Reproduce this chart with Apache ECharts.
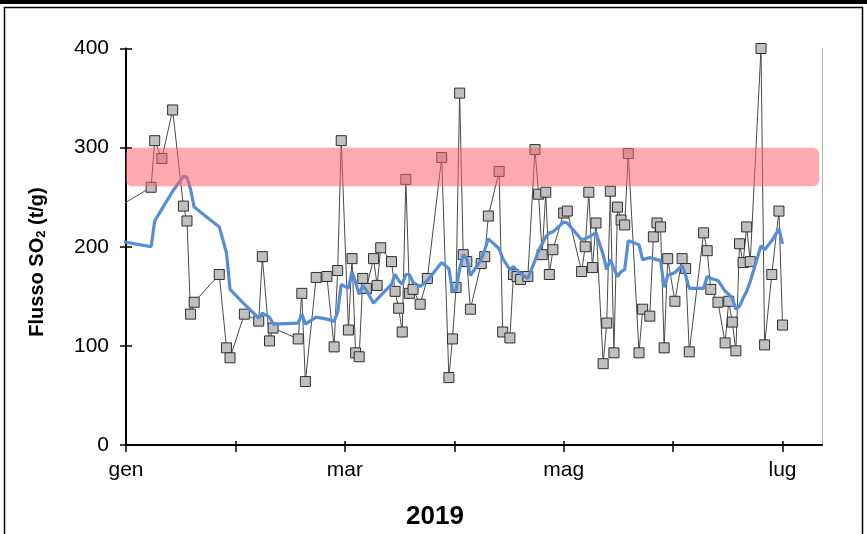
<!DOCTYPE html>
<html>
<head>
<meta charset="utf-8">
<script src="https://cdn.jsdelivr.net/npm/echarts@6/dist/echarts.min.js"></script>
<style>
  html, body { margin: 0; padding: 0; background: #fff; }
  #chart { width: 867px; height: 534px; }
</style>
</head>
<body>
<div id="chart"></div>
<script>
// giorni dal 1 gennaio 2019 (il primo punto e' di fine dicembre, fuori dal grafico)
var days = [-5, 7, 8, 10, 13, 16, 17, 18, 19, 26, 28, 29, 33, 37, 38, 40, 41, 48, 49, 50,
  53, 56, 58, 59, 60, 62, 63, 64, 65, 66, 67, 69, 70, 71, 74, 75, 76, 77, 78, 79,
  80, 82, 84, 88, 90, 91, 92, 93, 94, 95, 96, 99, 100, 101, 104, 105, 107, 108, 109, 110,
  112, 114, 115, 116, 117, 118, 119, 122, 123, 127, 128, 129, 130, 131, 133, 134, 135, 136, 137, 138,
  139, 140, 143, 144, 146, 147, 148, 149, 150, 151, 153, 155, 156, 157, 161, 162, 163, 165, 167, 168,
  169, 170, 171, 172, 173, 174, 177, 178, 180, 182, 183];

// flusso giornaliero SO2 (t/g)
var flusso = [234, 260, 307, 289, 338, 241, 226, 132, 144, 172, 98, 88, 132, 125, 190, 105, 118, 107, 153, 64,
  169, 170, 99, 176, 307, 116, 188, 93, 89, 168, 158, 188, 161, 199, 185, 155, 138, 114, 268, 153,
  157, 142, 168, 290, 68, 107, 159, 355, 192, 185, 137, 183, 190, 231, 276, 114, 108, 172, 170, 167,
  170, 298, 253, 192, 255, 172, 197, 234, 236, 175, 200, 255, 179, 224, 82, 123, 256, 93, 240, 227,
  222, 294, 93, 137, 130, 210, 224, 220, 98, 188, 145, 188, 178, 94, 214, 196, 157, 144, 103, 145,
  124, 95, 203, 184, 220, 185, 400, 101, 172, 236, 121];

// media mobile
var media = [208, 200, 226, 238, 256, 271, 270, 258, 240, 220, 194, 157, 142, 128, 133, 129, 122, 123, 132, 122,
  129, 127, 125, 134, 162, 158, 175, 164, 152, 161, 156, 143, 147, 151, 162, 172, 166, 162, 172, 172,
  164, 160, 166, 184, 178, 155, 156, 178, 192, 188, 171, 187, 197, 208, 198, 188, 177, 180, 176, 173,
  168, 186, 196, 203, 210, 214, 215, 225, 224, 207, 208, 210, 212, 214, 192, 177, 187, 178, 170, 175,
  177, 206, 202, 187, 189, 188, 187, 186, 159, 171, 174, 181, 171, 158, 158, 170, 168, 166, 155, 152,
  148, 137, 140, 148, 155, 165, 201, 197, 206, 218, 203];

// fascia di riferimento
var band = [[0, 193.2, 261, 300]];

var tickDays = [0, 30.5, 61, 91.5, 122, 152.5, 183];
var labelDays = [0, 61, 122, 183];
var monthLabels = ['gen', 'mar', 'mag', 'lug'];

var font = '"Liberation Sans", Arial, sans-serif';

var chart = echarts.init(document.getElementById('chart'));

var option = {
  animation: false,
  backgroundColor: '#fff',
  grid: { left: 126, right: 45, top: 48.5, bottom: 89, containLabel: false },
  xAxis: [
    {
      type: 'value', min: 0, max: 194,
      splitLine: { show: false },
      axisLine: { show: true, onZero: false, lineStyle: { color: '#000', width: 2 } },
      axisTick: { show: true, customValues: tickDays, length: 7, lineStyle: { color: '#000', width: 1.5 } },
      axisLabel: {
        customValues: labelDays, margin: 15, fontSize: 21, color: '#000', fontFamily: font,
        formatter: function (v) { return monthLabels[labelDays.indexOf(v)]; }
      }
    },
    {
      type: 'value', min: 0, max: 194, position: 'bottom',
      splitLine: { show: false },
      axisLine: { show: false, onZero: false },
      axisTick: { show: true, inside: true, customValues: tickDays, length: 4, lineStyle: { color: '#000', width: 1.5 } },
      axisLabel: { show: false }
    }
  ],
  yAxis: [
    {
      type: 'value', min: 0, max: 400, interval: 100,
      splitLine: { show: false },
      axisLine: { show: true, lineStyle: { color: '#000', width: 2 } },
      axisTick: { show: true, length: 6, lineStyle: { color: '#000', width: 1.5 } },
      axisLabel: { margin: 17, fontSize: 21, color: '#000', fontFamily: font }
    },
    {
      type: 'value', min: 0, max: 400, interval: 100, position: 'left',
      splitLine: { show: false },
      axisLine: { show: false },
      axisTick: { show: true, inside: true, length: 6, lineStyle: { color: '#000', width: 1.5 } },
      axisLabel: { show: false }
    },
    {
      type: 'value', min: 0, max: 400, interval: 100, position: 'right',
      splitLine: { show: false },
      axisLine: { show: true, lineStyle: { color: '#b4b4b4', width: 1 } },
      axisTick: { show: false },
      axisLabel: { show: false }
    }
  ],
  series: [
    {
      name: 'flusso',
      type: 'line',
      z: 2,
      data: days.map(function (d, i) { return [d, flusso[i]]; }),
      symbol: 'rect',
      symbolSize: 10,
      showSymbol: true,
      showAllSymbol: true,
      lineStyle: { color: '#4a4a4a', width: 1 },
      itemStyle: { color: '#c0c0c0', borderColor: '#2e2e2e', borderWidth: 1 }
    },
    {
      name: 'media',
      type: 'line',
      z: 3,
      data: days.map(function (d, i) { return [d, media[i]]; }),
      symbol: 'none',
      lineStyle: { color: '#558ed5', width: 3.2 }
    },
    {
      name: 'fascia',
      type: 'custom',
      z: 4,
      data: band,
      encode: { x: [0, 1], y: [2, 3] },
      renderItem: function (params, api) {
        var p0 = api.coord([api.value(0), api.value(3)]);
        var p1 = api.coord([api.value(1), api.value(2)]);
        return {
          type: 'rect',
          shape: { x: p0[0], y: p0[1], width: p1[0] - p0[0], height: p1[1] - p0[1], r: 6 },
          style: { fill: 'rgba(255, 95, 105, 0.53)' }
        };
      }
    }
  ],
  graphic: [
    { type: 'rect', shape: { x: 0, y: 0, width: 867, height: 4 }, style: { fill: '#000' } },
    { type: 'rect', shape: { x: 4.5, y: 7.5, width: 858, height: 540 }, style: { fill: 'none', stroke: '#000', lineWidth: 1.5 } },
    {
      type: 'text', x: 37, y: 262, rotation: Math.PI / 2,
      style: {
        text: '{a|Flusso SO}{b|2}{a| (t/g)}',
        align: 'center', verticalAlign: 'middle',
        rich: {
          a: { fontSize: 20, fontWeight: 'bold', fontFamily: font, fill: '#000' },
          b: { fontSize: 13, fontWeight: 'bold', fontFamily: font, fill: '#000', padding: [9, 0, 0, 0] }
        }
      }
    },
    {
      type: 'text', x: 435, y: 517,
      style: { text: '2019', font: 'bold 26px "Liberation Sans", Arial, sans-serif', fill: '#000', align: 'center', verticalAlign: 'middle' }
    }
  ]
};

chart.setOption(option);
</script>
</body>
</html>
